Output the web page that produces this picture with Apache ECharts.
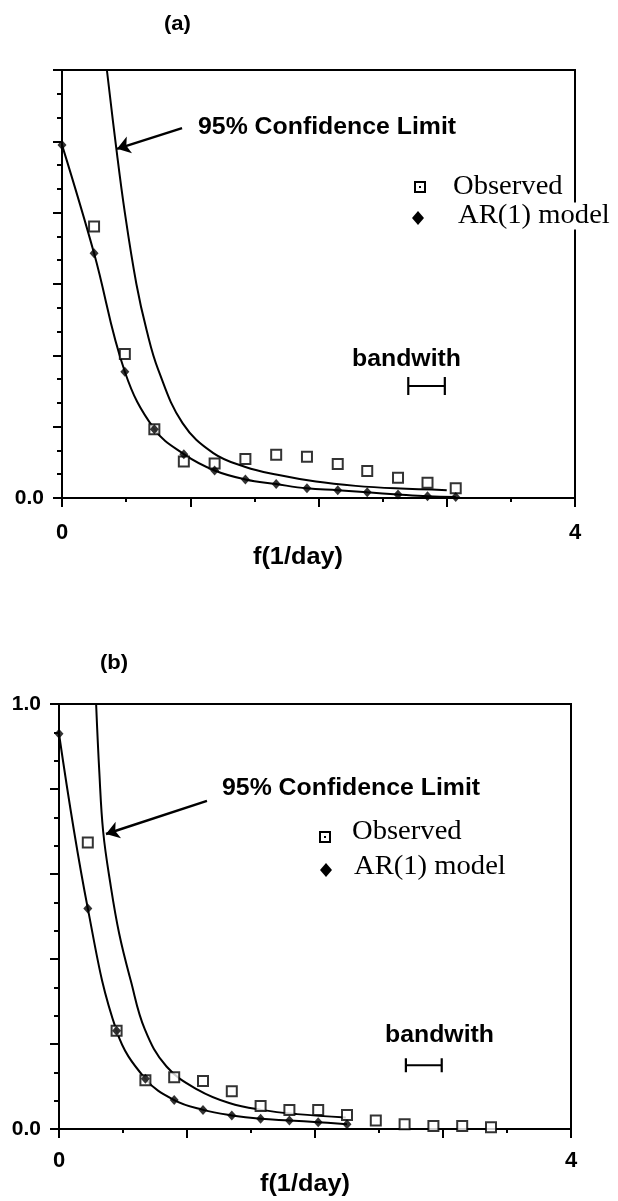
<!DOCTYPE html>
<html>
<head>
<meta charset="utf-8">
<title>AR(1) spectrum</title>
<script src="https://cdn.jsdelivr.net/npm/echarts@6.0.0/dist/echarts.min.js"></script>
<style>
html, body { margin: 0; padding: 0; background: #fff; }
#chartMain { width: 618px; height: 1201px; }
</style>
</head>
<body>
<div id="chartMain"></div>
<script>
// panel (a)
var freqA = [0, 0.25, 0.49, 0.72, 0.95, 1.19, 1.43, 1.67, 1.91, 2.15, 2.38, 2.62, 2.85, 3.07];
var observedA = [null, 0.761, 0.404, 0.193, 0.102, 0.097, 0.109, 0.121, 0.116, 0.095, 0.076, 0.057, 0.043, 0.027];
var arModelA = [0.99, 0.686, 0.354, 0.193, 0.123, 0.077, 0.052, 0.039, 0.027, 0.022, 0.016, 0.010, 0.005, 0.003];
var ciFreqA = [0.35, 0.42, 0.49, 0.58, 0.66, 0.75, 0.94, 1.18, 1.43, 1.68, 1.98, 2.29, 2.6, 3.0];
var ciA = [1.2, 0.99, 0.80, 0.60, 0.47, 0.36, 0.21, 0.126, 0.087, 0.065, 0.046, 0.034, 0.027, 0.022];
var bandwidthA = [2.70, 2.985, 0.314];   // from, to, level
var arrowA = [[0.936, 1.037], [0.429, 0.979]];

// panel (b)
var freqB = [0, 0.225, 0.45, 0.675, 0.9, 1.125, 1.35, 1.575, 1.8, 2.025, 2.25, 2.475, 2.7, 2.925, 3.15, 3.375];
var observedB = [null, 0.674, 0.231, 0.115, 0.122, 0.113, 0.089, 0.054, 0.045, 0.045, 0.033, 0.020, 0.011, 0.007, 0.007, 0.004];
var arModelB = [0.93, 0.519, 0.231, 0.118, 0.068, 0.045, 0.032, 0.024, 0.020, 0.016, 0.011, null, null, null, null, null];
var ciFreqB = [0.29, 0.315, 0.345, 0.40, 0.47, 0.56, 0.67, 0.84, 1.086, 1.33, 1.58, 1.86, 2.24];
var ciB = [1.0, 0.84, 0.70, 0.58, 0.46, 0.35, 0.235, 0.147, 0.092, 0.061, 0.045, 0.035, 0.027];
var bandwidthB = [2.71, 2.99, 0.15];
var arrowB = [[1.156, 0.772], [0.367, 0.694]];

// tick labels that are printed
var xLabelValues = [0, 4];
var yLabelValuesA = [0];
var yLabelValuesB = [0, 1];

var SANS = '"Liberation Sans", Arial, sans-serif';
var SERIF = '"Liberation Serif", "Times New Roman", serif';

var chartOperation = {

    pairs: function (xs, ys) {
        var out = [];
        for (var i = 0; i < xs.length; i++) {
            if (ys[i] === null) continue;
            out.push([xs[i], ys[i]]);
        }
        return out;
    },

    hasValue: function (list, v) {
        for (var i = 0; i < list.length; i++) {
            if (Math.abs(list[i] - v) < 1e-6) return true;
        }
        return false;
    },

    xAxis: function (idx, margin) {
        var self = this;
        return {
            type: 'value', gridIndex: idx, min: 0, max: 4, interval: 1,
            axisLine: { lineStyle: { color: '#000', width: 2 } },
            axisTick: { length: 9, lineStyle: { color: '#000', width: 2 } },
            minorTick: { show: true, splitNumber: 2, length: 4, lineStyle: { color: '#000', width: 2 } },
            splitLine: { show: false },
            axisLabel: {
                margin: margin, color: '#000', fontSize: 22, fontWeight: 'bold', fontFamily: SANS,
                formatter: function (v) { return self.hasValue(xLabelValues, v) ? String(Math.round(v)) : ''; }
            }
        };
    },

    yAxis: function (idx, max, labels) {
        var self = this;
        return {
            type: 'value', gridIndex: idx, min: 0, max: max, interval: 0.2,
            axisLine: { lineStyle: { color: '#000', width: 2 } },
            axisTick: { length: 9, lineStyle: { color: '#000', width: 2 } },
            minorTick: { show: true, splitNumber: 3, length: 5, lineStyle: { color: '#000', width: 2 } },
            splitLine: { show: false },
            axisLabel: {
                margin: 18, color: '#000', fontSize: 21, fontWeight: 'bold', fontFamily: SANS,
                formatter: function (v) { return self.hasValue(labels, v) ? v.toFixed(1) : ''; }
            }
        };
    },

    //bandwidth bar, caps in pixels
    bandwidthSeries: function (idx, data, cap) {
        return {
            type: 'custom', xAxisIndex: idx, yAxisIndex: idx, silent: true, z: 5,
            data: [data],
            encode: { x: [0, 1], y: 2 },
            renderItem: function (params, api) {
                var a = api.coord([api.value(0), api.value(2)]);
                var b = api.coord([api.value(1), api.value(2)]);
                var st = { stroke: '#000', lineWidth: 2.2 };
                return {
                    type: 'group',
                    children: [
                        { type: 'line', shape: { x1: a[0], y1: a[1], x2: b[0], y2: b[1] }, style: st },
                        { type: 'line', shape: { x1: a[0], y1: a[1] - cap, x2: a[0], y2: a[1] + cap }, style: st },
                        { type: 'line', shape: { x1: b[0], y1: b[1] - cap, x2: b[0], y2: b[1] + cap }, style: st }
                    ]
                };
            }
        };
    },

    panelSeries: function (idx, freq, obs, ar, ciF, ci, arrow, bw, cap) {
        return [
            {
                name: '95% limit', type: 'line', xAxisIndex: idx, yAxisIndex: idx,
                data: this.pairs(ciF, ci), smooth: 0.4, showSymbol: false,
                lineStyle: { color: '#000', width: 2 }, z: 2,
                markLine: {
                    silent: true, symbol: ['none', 'arrow'], symbolSize: 13,
                    lineStyle: { color: '#000', width: 2.5, type: 'solid' },
                    label: { show: false },
                    data: [[{ coord: arrow[0] }, { coord: arrow[1] }]]
                }
            },
            {
                name: 'AR line', type: 'line', xAxisIndex: idx, yAxisIndex: idx,
                data: this.pairs(freq, ar), smooth: 0.4, showSymbol: false,
                lineStyle: { color: '#000', width: 2 }, z: 2
            },
            {
                name: 'Observed', type: 'scatter', xAxisIndex: idx, yAxisIndex: idx,
                data: this.pairs(freq, obs), symbol: 'rect', symbolSize: 10,
                itemStyle: { color: '#fff', borderColor: '#000', borderWidth: 2 }, z: 3
            },
            {
                name: 'AR(1) model', type: 'scatter', xAxisIndex: idx, yAxisIndex: idx,
                data: this.pairs(freq, ar), symbol: 'diamond', symbolSize: [9, 10],
                itemStyle: { color: '#000' }, z: 4
            },
            this.bandwidthSeries(idx, bw, cap)
        ];
    },

    text: function (str, x, y, font, align, sx) {
        return {
            type: 'text', x: x, y: y, scaleX: sx || 1, z: 10,
            style: { text: str, font: font, fill: '#000', align: align || 'left', verticalAlign: 'middle' }
        };
    },

    //legend drawn by hand (square with a dot, diamond)
    legend: function (sq, dia, t1, t2) {
        return [
            { type: 'rect', z: 10, shape: { x: sq[0] - 5, y: sq[1] - 5, width: 10, height: 10 },
              style: { fill: '#fff', stroke: '#000', lineWidth: 2 } },
            { type: 'rect', z: 10, shape: { x: sq[0] - 1, y: sq[1] - 1, width: 2, height: 2 }, style: { fill: '#000' } },
            { type: 'polygon', z: 10,
              shape: { points: [[dia[0], dia[1] - 7], [dia[0] + 6, dia[1]], [dia[0], dia[1] + 7], [dia[0] - 6, dia[1]]] },
              style: { fill: '#000' } },
            this.text('Observed', t1[0], t1[1], '27px ' + SERIF, 'left', 1.06),
            {
                type: 'text', x: t2[0], y: t2[1], scaleX: 1.06, z: 10,
                style: { text: 'AR(1) model', font: '27px ' + SERIF, fill: '#000', align: 'left',
                         verticalAlign: 'middle', backgroundColor: '#fff' }
            }
        ];
    },

    draw: function () {
        var labelFont = 'bold 23px ' + SANS;
        var graphic = [
            this.text('(a)', 164, 24, 'bold 21px ' + SANS, 'left', 1.05),
            this.text('95% Confidence Limit', 198, 128, labelFont, 'left', 1.08),
            this.text('bandwith', 352, 360, labelFont, 'left', 1.08),
            this.text('f(1/day)', 298, 558, labelFont, 'center', 1.1),

            this.text('(b)', 100, 663, 'bold 21px ' + SANS, 'left', 1.05),
            this.text('95% Confidence Limit', 222, 789, labelFont, 'left', 1.08),
            this.text('bandwith', 385, 1036, labelFont, 'left', 1.08),
            this.text('f(1/day)', 305, 1185, labelFont, 'center', 1.1)
        ];
        graphic = graphic.concat(this.legend([420, 187], [418, 218], [453, 187], [458, 216]));
        graphic = graphic.concat(this.legend([325, 837], [326, 870], [352, 832], [354, 867]));

        var option = {
            animation: false,
            backgroundColor: '#fff',
            grid: [
                { left: 62, top: 70, right: 43, height: 428, show: true, borderColor: '#000', borderWidth: 2 },
                { left: 59, top: 704, right: 47, height: 425, show: true, borderColor: '#000', borderWidth: 2 }
            ],
            xAxis: [this.xAxis(0, 24), this.xAxis(1, 21)],
            yAxis: [this.yAxis(0, 1.2, yLabelValuesA), this.yAxis(1, 1.0, yLabelValuesB)],
            series: this.panelSeries(0, freqA, observedA, arModelA, ciFreqA, ciA, arrowA, bandwidthA, 9)
                .concat(this.panelSeries(1, freqB, observedB, arModelB, ciFreqB, ciB, arrowB, bandwidthB, 7)),
            graphic: graphic
        };

        var mychart = echarts.init(document.getElementById('chartMain'));
        mychart.setOption(option);
    }
};

chartOperation.draw();
</script>
</body>
</html>
